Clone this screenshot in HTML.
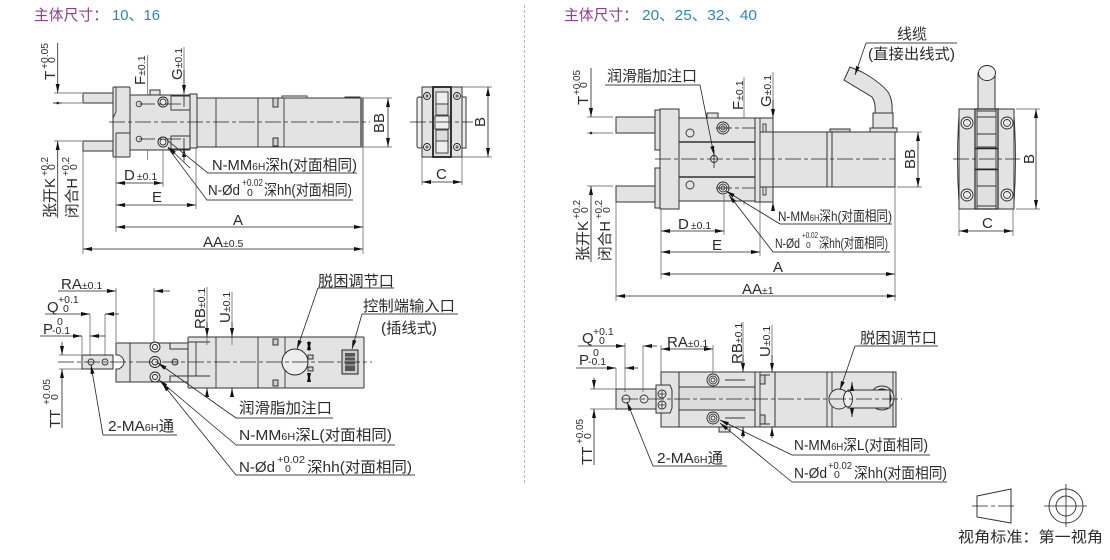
<!DOCTYPE html>
<html><head><meta charset="utf-8">
<style>
html,body{margin:0;padding:0;background:#fff}
svg{display:block;filter:blur(.3px)}
text{font-family:"Liberation Sans","Noto Sans CJK SC",sans-serif;font-size:15px;fill:#2b2b2b}
.s{font-size:10.5px}
.b{fill:#e3e3e3;stroke:#333;stroke-width:1}
.g{fill:#cfcfcf;stroke:#333;stroke-width:1}
.n{fill:none;stroke:#333;stroke-width:.9}
.w{fill:#eee;stroke:#222;stroke-width:.9}
.d{fill:none;stroke:#222;stroke-width:.8}
.e{fill:none;stroke:#555;stroke-width:.7}
.u{fill:none;stroke:#444;stroke-width:.9}
.c{fill:none;stroke:#222;stroke-width:.8;stroke-dasharray:16 3 4 3}
.ae{marker-end:url(#a)}.as{marker-start:url(#a)}
</style></head>
<body>
<svg xmlns="http://www.w3.org/2000/svg" width="1110" height="560" viewBox="0 0 1110 560">
<defs><marker id="a" markerUnits="userSpaceOnUse" markerWidth="10" markerHeight="6" refX="9" refY="3" orient="auto-start-reverse"><path d="M0 1L9 3L0 5Z" fill="#111"/></marker></defs>

<!-- headers -->
<text x="34" y="20" style="font-size:14.8px;fill:#8a3f8c">主体尺寸：</text>
<text x="112" y="20" textLength="48" lengthAdjust="spacingAndGlyphs" style="fill:#2a88b8">10、16</text>
<text x="564" y="20" style="font-size:14.8px;fill:#8a3f8c">主体尺寸：</text>
<text x="642" y="20" textLength="115" lengthAdjust="spacingAndGlyphs" style="fill:#2a88b8">20、25、32、40</text>
<path d="M524.5 5V485" stroke="#aaa" stroke-width=".8" stroke-dasharray="3 2" fill="none"/>

<!-- ===== TOP LEFT ===== -->
<rect class="b" x="83" y="93" width="30" height="10"/><rect class="b" x="83" y="141" width="30" height="10"/>
<rect class="b" x="130" y="95" width="60" height="55"/>
<rect class="b" x="150" y="90" width="10" height="5"/>
<rect class="b" x="113" y="87" width="17" height="70" rx="1"/>
<path class="n" d="M116 87V112M116 133V157M116 133H130M116 112L113 118"/>
<rect class="b" x="190" y="94" width="7" height="54"/>
<rect class="b" x="197" y="98" width="166" height="49"/>
<path class="n" d="M216 98V147M258 98V147M284 98V147M282 98V96H307V98M345 98V97H360V98"/>
<rect class="g" x="273" y="98" width="5" height="9"/><rect class="g" x="273" y="138" width="5" height="8"/>
<rect x="360" y="98" width="3" height="49" fill="#777"/>
<path class="n" d="M171 96H190V110H171ZM171 136H190V149H171ZM184 96V107M184 138V148"/>
<circle class="n" cx="139" cy="104" r="2.8"/><circle class="n" cx="139" cy="139" r="2.8"/>
<circle class="w" cx="163" cy="102" r="5"/><circle class="n" cx="163" cy="102" r="3"/><circle class="w" cx="163" cy="142" r="5"/><circle class="n" cx="163" cy="142" r="3"/>
<path class="c" d="M109 122H370"/><path class="c" d="M139 104H184M139 139H184"/>
<path class="e" d="M54 93H82M54 103H82M54 141H82M83 151V254M116 157V232M363 147V254M163 150V187M196 148V209"/>
<path class="e" d="M147.7 95V55M147.7 150V160M184 94V47M184 150V162"/>
<path class="d ae" d="M57.7 43V93"/><path class="d" d="M53 103H62"/><circle cx="57.7" cy="103" r="1.3" fill="#222"/>
<path class="d ae" d="M57.7 218V141"/>
<path class="d ae" d="M184 70V94"/><path class="d as" d="M184 148V160"/>
<path class="d as ae" d="M116 183H163"/><path class="d as ae" d="M116 205H196"/><path class="d as ae" d="M116 227H363"/><path class="d as ae" d="M83 249H363"/>
<text transform="translate(55 80) rotate(-90)">T</text><text class="s" transform="translate(48 69) rotate(-90)" textLength="26" lengthAdjust="spacingAndGlyphs">+0.05</text><text class="s" transform="translate(55 63) rotate(-90)">0</text>
<text transform="translate(55 218) rotate(-90)" textLength="40" lengthAdjust="spacingAndGlyphs">张开K</text><text class="s" transform="translate(48 176) rotate(-90)" textLength="19" lengthAdjust="spacingAndGlyphs">+0.2</text><text class="s" transform="translate(55 170) rotate(-90)">0</text>
<text transform="translate(77 218) rotate(-90)" textLength="40" lengthAdjust="spacingAndGlyphs">闭合H</text><text class="s" transform="translate(69 176) rotate(-90)" textLength="19" lengthAdjust="spacingAndGlyphs">+0.2</text><text class="s" transform="translate(77 170) rotate(-90)">0</text>
<text transform="translate(145 85) rotate(-90)">F<tspan class="s">±0.1</tspan></text>
<text transform="translate(182 80) rotate(-90)">G<tspan class="s">±0.1</tspan></text>
<text x="124" y="180">D<tspan class="s" dx="2">±0.1</tspan></text><text x="152" y="202">E</text><text x="233" y="225">A</text>
<text x="203" y="247">AA<tspan class="s">±0.5</tspan></text>
<path class="u" d="M357 173H208L167 140"/><path class="u" d="M353 200H207L168 148"/><path class="d ae" d="M190 168L168 147"/>
<text x="212" y="170" textLength="145" lengthAdjust="spacingAndGlyphs">N-MM<tspan class="s">6H</tspan>深h(对面相同)</text>
<text x="208" y="195" textLength="32" lengthAdjust="spacingAndGlyphs">N-Ød</text><text class="s" x="242" y="186" textLength="21" lengthAdjust="spacingAndGlyphs">+0.02</text><text class="s" x="247" y="196">0</text><text x="264" y="195" textLength="88" lengthAdjust="spacingAndGlyphs">深hh(对面相同)</text>
<path class="e" d="M363 98H392M363 147H392"/><path class="d as ae" d="M388 98V147"/>
<text transform="translate(384 133) rotate(-90)">BB</text>

<!-- Left end view -->
<rect class="w" x="417" y="97" width="5" height="51" rx="2"/><rect class="w" x="462" y="97" width="4" height="51"/>
<rect class="b" x="422" y="87" width="40" height="70"/>
<rect x="433" y="87" width="18" height="70" fill="#ddd" stroke="#222" stroke-width="1.8"/>
<rect x="436" y="92" width="12" height="12" fill="#eee" stroke="#333" stroke-width=".9"/><rect x="436" y="104" width="12" height="11" fill="#ddd" stroke="#333" stroke-width=".9"/>
<rect x="435" y="116" width="14" height="13" fill="#eee" stroke="#333" stroke-width=".9"/>
<rect x="436" y="130" width="12" height="11" fill="#ddd" stroke="#333" stroke-width=".9"/><rect x="436" y="141" width="12" height="12" fill="#eee" stroke="#333" stroke-width=".9"/>
<circle class="w" cx="427" cy="96" r="3.5"/><circle class="w" cx="457" cy="96" r="3.5"/><circle class="w" cx="427" cy="147" r="3.5"/><circle class="w" cx="457" cy="147" r="3.5"/>
<path class="d" d="M425 96H429M427 94V98M455 96H459M457 94V98M425 147H429M427 145V149M455 147H459M457 145V149"/>
<path class="c" d="M410 122H473"/>
<path class="e" d="M462 87H492M462 157H492M422 157V185M462 157V185"/>
<path class="d as ae" d="M488 87V157"/><path class="d as ae" d="M422 182H462"/>
<text transform="translate(485 127) rotate(-90)">B</text><text x="436" y="179">C</text>

<!-- ===== BOTTOM LEFT ===== -->
<rect class="b" x="82" y="355" width="31" height="14"/>
<path class="b" d="M116 343H130V382H116V369H119Q124 366 124 362Q124 358 119 355H116Z"/>
<rect class="b" x="130" y="343" width="58" height="39"/>
<rect class="b" x="170" y="343" width="18" height="6"/><rect class="b" x="170" y="376" width="18" height="6"/>
<rect class="b" x="188" y="337" width="176" height="51" rx="1"/>
<path class="n" d="M216 337V388M258 337V388M285 337V388M188 342H210M188 376H210M196 342V376"/>
<rect class="g" x="273" y="339" width="5" height="6"/><rect class="g" x="273" y="380" width="5" height="6"/>
<circle class="w" cx="155" cy="347" r="5"/><circle class="w" cx="155" cy="347" r="2.5"/><circle class="w" cx="155" cy="362" r="5.5"/><circle class="w" cx="155" cy="362" r="3"/><circle class="w" cx="155" cy="377" r="5"/><circle class="w" cx="155" cy="377" r="2.5"/>
<circle class="g" cx="175" cy="362" r="3"/>
<circle class="n" cx="91" cy="362" r="3"/><circle class="n" cx="105" cy="362" r="3"/>
<circle cx="295" cy="362" r="13" fill="#eee" stroke="#222" stroke-width="1"/>
<rect class="g" x="308" y="355" width="5" height="4"/><rect class="g" x="308" y="367" width="5" height="4"/>
<path class="d as ae" d="M309 341V351"/><path class="d as ae" d="M309 373V382"/>
<rect x="342" y="350" width="16" height="24" fill="#ccc" stroke="#222"/><rect x="345" y="353" width="10" height="18" fill="#555"/>
<path d="M345 357H355M345 361H355M345 365H355" stroke="#bbb" stroke-width="1"/>
<path class="c" d="M58 362H372"/>
<path class="e" d="M116 288V342M154 288V342M90 314V356M105 314V356M82 336V354"/>
<path class="d ae" d="M58 291H116"/><path class="d ae" d="M170 291H154"/>
<path class="d ae" d="M45 314H90"/><path class="d ae" d="M119 314H105"/>
<path class="d ae" d="M40 336H82"/><path class="d ae" d="M105 336H90"/>
<path class="e" d="M59 355H82M59 369H82"/>
<path class="d ae" d="M62 342V355"/><path class="d ae" d="M62 428V369"/>
<path class="e" d="M207 287V345M232 292V345"/>
<path class="d ae" d="M207 322V337"/><path class="d as" d="M207 388V395"/><path class="d ae" d="M232 322V337"/><path class="d as" d="M232 388V396"/>
<text x="61" y="289">RA<tspan class="s">±0.1</tspan></text>
<text x="47" y="312">Q</text><text class="s" x="58" y="303">+0.1</text><text class="s" x="63" y="312">0</text>
<text x="43" y="334">P</text><text class="s" x="52" y="334">-0.1</text><text class="s" x="57" y="325">0</text>
<text transform="translate(60 428) rotate(-90)">TT</text><text class="s" transform="translate(50 405) rotate(-90)" textLength="26" lengthAdjust="spacingAndGlyphs">+0.05</text><text class="s" transform="translate(58 400) rotate(-90)">0</text>
<text transform="translate(205 329) rotate(-90)">RB<tspan class="s">±0.1</tspan></text>
<text transform="translate(230 323) rotate(-90)">U<tspan class="s">±0.1</tspan></text>
<text x="318" y="286" textLength="76" lengthAdjust="spacingAndGlyphs">脱困调节口</text><path class="u" d="M394 288H318"/><path class="d ae" d="M318 288L297 349"/>
<text x="363" y="311" textLength="92" lengthAdjust="spacingAndGlyphs">控制端输入口</text><text x="381" y="333" textLength="56" lengthAdjust="spacingAndGlyphs">(插线式)</text><path class="u" d="M458 314H362"/><path class="d ae" d="M362 314L352 349"/>
<text x="239" y="413" textLength="93" lengthAdjust="spacingAndGlyphs">润滑脂加注口</text><path class="u" d="M333 418H236"/><path class="d ae" d="M236 418L158 363"/>
<text x="239" y="440" textLength="153" lengthAdjust="spacingAndGlyphs">N-MM<tspan class="s">6H</tspan>深L(对面相同)</text><path class="u" d="M395 445H236"/><path class="d ae" d="M236 445L159 380"/>
<text x="239" y="472" textLength="36" lengthAdjust="spacingAndGlyphs">N-Ød</text><text class="s" x="277" y="463" textLength="28" lengthAdjust="spacingAndGlyphs">+0.02</text><text class="s" x="285" y="472">0</text><text x="307" y="472" textLength="105" lengthAdjust="spacingAndGlyphs">深hh(对面相同)</text><path class="u" d="M415 475H236"/><path class="d ae" d="M236 475L162 383"/>
<text x="108" y="431" textLength="66" lengthAdjust="spacingAndGlyphs">2-MA<tspan class="s">6H</tspan>通</text><path class="u" d="M177 435H103"/><path class="d ae" d="M103 435L91 365"/>

<!-- ===== TOP RIGHT ===== -->
<rect class="b" x="616" y="117" width="39" height="16"/><rect class="b" x="616" y="186" width="39" height="16"/>
<path class="b" d="M655 110H660V150H655ZM655 168H660V208H655Z"/>
<rect class="b" x="660" y="109" width="19" height="100"/>
<rect class="b" x="707" y="113" width="11" height="5"/>
<rect class="b" x="679" y="118" width="76" height="83"/>
<path d="M679 142H755M679 177H755" stroke="#333" stroke-width="1.5" fill="none"/>
<rect class="b" x="755" y="118" width="18" height="84"/><path class="n" d="M760 118V202M760 132H773M760 187H773"/>
<rect class="b" x="773" y="132" width="122" height="55"/>
<rect class="b" x="827" y="132" width="5" height="55"/>
<rect class="g" x="830" y="129" width="20" height="3"/>
<path class="b" d="M850 67L844 80L872 97Q876 103 875 113H892Q893 100 888 92Q880 82 862 72Z"/>
<path class="b" d="M873 113H893V128H873ZM870 128H897V132H870Z"/>
<rect class="n" x="763" y="124" width="3" height="8"/><rect class="n" x="763" y="187" width="3" height="8"/>
<circle class="n" cx="690" cy="133" r="4"/><circle class="n" cx="690" cy="185" r="4"/>
<circle class="w" cx="723" cy="128" r="6"/><circle class="n" cx="723" cy="128" r="4"/><circle class="n" cx="723" cy="128" r="2"/>
<circle class="w" cx="723" cy="188" r="6"/><circle class="n" cx="723" cy="188" r="4"/><circle class="n" cx="723" cy="188" r="2"/>
<circle class="w" cx="714" cy="159" r="3.5"/>
<path class="c" d="M655 159H895"/><path class="c" d="M716 128H755M716 188H755"/><path class="d" d="M714 150V168"/>
<path class="e" d="M587 117H613M587 133H613M587 186H613M616 202V301M661 209V279M895 187V301M724 195V235M760 202V256"/>
<path class="e" d="M744 77V118M744 201V205M773 72V118M773 202V210"/>
<path class="d ae" d="M591 68V117"/><circle cx="591" cy="133" r="1.3" fill="#222"/><path class="d ae" d="M591 262V186"/>
<path class="d ae" d="M773 100V118"/><path class="d as" d="M773 202V210"/>
<path class="d as ae" d="M661 231H724"/><path class="d as ae" d="M661 252H760"/><path class="d as ae" d="M661 274H895"/><path class="d as ae" d="M616 296H896"/>
<path class="e" d="M897 132H922M897 187H922"/><path class="d as ae" d="M918 132V187"/>
<text transform="translate(588 105) rotate(-90)">T</text><text class="s" transform="translate(580 95) rotate(-90)" textLength="25" lengthAdjust="spacingAndGlyphs">+0.05</text><text class="s" transform="translate(587 88) rotate(-90)">0</text>
<text transform="translate(588 261) rotate(-90)" textLength="40" lengthAdjust="spacingAndGlyphs">张开K</text><text class="s" transform="translate(580 219) rotate(-90)" textLength="19" lengthAdjust="spacingAndGlyphs">+0.2</text><text class="s" transform="translate(588 213) rotate(-90)">0</text>
<text transform="translate(610 261) rotate(-90)" textLength="40" lengthAdjust="spacingAndGlyphs">闭合H</text><text class="s" transform="translate(602 219) rotate(-90)" textLength="19" lengthAdjust="spacingAndGlyphs">+0.2</text><text class="s" transform="translate(610 213) rotate(-90)">0</text>
<text transform="translate(743 110) rotate(-90)">F<tspan class="s">±0.1</tspan></text>
<text transform="translate(771 107) rotate(-90)">G<tspan class="s">±0.1</tspan></text>
<text x="678" y="229">D<tspan class="s" dx="2">±0.1</tspan></text><text x="712" y="250">E</text><text x="773" y="272">A</text>
<text x="742" y="294">AA<tspan class="s">±1</tspan></text>
<text transform="translate(915 169) rotate(-90)">BB</text>
<text x="607" y="81" textLength="90" lengthAdjust="spacingAndGlyphs">润滑脂加注口</text><path class="u" d="M700 85H605"/><path class="d ae" d="M700 85L714 155"/>
<text x="897" y="39" textLength="30" lengthAdjust="spacingAndGlyphs">线缆</text><text x="868" y="59" textLength="87" lengthAdjust="spacingAndGlyphs">(直接出线式)</text><path class="u" d="M957 43H866"/><path class="d ae" d="M866 43L855 75"/>
<text x="778" y="221" textLength="114" lengthAdjust="spacingAndGlyphs" style="font-size:14px">N-MM<tspan class="s" style="font-size:9px">6H</tspan>深h(对面相同)</text><path class="u" d="M892 224H780"/><path class="d ae" d="M780 224L726 191"/>
<text x="775" y="248" textLength="25" lengthAdjust="spacingAndGlyphs" style="font-size:14px">N-Ød</text><text x="802" y="238" textLength="16" lengthAdjust="spacingAndGlyphs" style="font-size:8.5px">+0.02</text><text x="806" y="248" style="font-size:8.5px">0</text><text x="819" y="248" textLength="69" lengthAdjust="spacingAndGlyphs" style="font-size:14px">深hh(对面相同)</text><path class="u" d="M890 252H773"/><path class="d ae" d="M773 252L729 195"/>

<!-- Right end view -->
<rect class="b" x="978" y="73" width="17" height="36"/><ellipse class="w" cx="987" cy="73" rx="8.5" ry="7.5"/>
<path class="n" d="M959 115Q956 159 959 203M1014 115Q1017 159 1014 203"/>
<rect class="b" x="959" y="109" width="55" height="100"/>
<rect x="975" y="109" width="23" height="100" fill="#e0e0e0" stroke="#333" stroke-width="1.3"/>
<path class="n" d="M977 109V209M996 109V209M977 111H996M977 117H996M977 134H996M977 147H996M977 169H996M977 186H996M977 206H996"/>
<path d="M975 148.5H998M975 169.5H998" stroke="#222" stroke-width="1.5"/>
<circle class="w" cx="967" cy="123" r="6"/><circle class="n" cx="967" cy="123" r="3.5"/><circle class="w" cx="1007" cy="123" r="6"/><circle class="n" cx="1007" cy="123" r="3.5"/><circle class="w" cx="967" cy="195" r="6"/><circle class="n" cx="967" cy="195" r="3.5"/><circle class="w" cx="1007" cy="195" r="6"/><circle class="n" cx="1007" cy="195" r="3.5"/>
<path class="c" d="M953 159H1020"/>
<path class="e" d="M1016 109H1040M1016 209H1040M959 209V236M1013 209V236"/>
<path class="d as ae" d="M1036 109V209"/><path class="d as ae" d="M959 231H1013"/>
<text transform="translate(1034 164) rotate(-90)">B</text><text x="982" y="228">C</text>

<!-- ===== BOTTOM RIGHT ===== -->
<rect class="b" x="616" y="389" width="40" height="20"/>
<circle class="n" cx="626" cy="399" r="4"/><circle class="n" cx="644" cy="399" r="4"/>
<rect class="b" x="661" y="372" width="18" height="55"/>
<path class="b" d="M656 385H670L672 390V408L670 413H656Z"/>
<circle class="w" cx="662" cy="394" r="4"/><circle class="w" cx="662" cy="405" r="4"/><path class="d" d="M659 394H665M662 391V397M659 405H665M662 402V408"/>
<rect class="b" x="679" y="372" width="76" height="55"/>
<rect x="679" y="387" width="76" height="23" fill="#dcdcdc" stroke="#333" stroke-width="1"/>
<rect class="b" x="755" y="372" width="20" height="55"/>
<path class="n" d="M760 372V427M760 375H770M760 424H770"/><rect class="g" x="760" y="375" width="5" height="9"/><rect class="g" x="760" y="415" width="5" height="9"/>
<rect class="b" x="775" y="372" width="121" height="55"/>
<path class="n" d="M827 372V427M832 372V427M893 372V427"/>
<rect x="719" y="427" width="11" height="5" class="b"/>
<circle class="w" cx="713" cy="380" r="6"/><circle class="n" cx="713" cy="380" r="4"/><circle class="n" cx="713" cy="380" r="2"/>
<circle class="w" cx="713" cy="418" r="6"/><circle class="n" cx="713" cy="418" r="4"/><circle class="n" cx="713" cy="418" r="2"/>
<path class="n" d="M725 380H745M725 418H745"/>
<circle class="b" cx="882" cy="398" r="12"/><circle class="w" cx="882" cy="398" r="9"/>
<path class="b" d="M848 390H890V408H848Z"/>
<ellipse class="b" cx="839" cy="399" rx="10" ry="10"/><ellipse class="w" cx="848" cy="399" rx="4.5" ry="8"/>
<path class="d as" d="M852 382V390"/><path class="d ae" d="M852 408V417"/>
<path class="c" d="M622 399H902"/>
<path class="e" d="M625 343V392M643 346V392M616 368V389M661 345V372M713 345V373M590 389H616M590 409H616"/>
<path class="e" d="M743 322V372M772 325V372M743 427V430M772 427V438"/>
<path class="d ae" d="M578 346H625"/><path class="d ae" d="M657 346H643"/>
<path class="d ae" d="M576 368H616"/><path class="d ae" d="M638 368H625"/>
<path class="d as ae" d="M661 349H713"/>
<path class="d ae" d="M743 355V372"/><path class="d ae" d="M743 438V427"/>
<path class="d ae" d="M772 355V372"/><path class="d ae" d="M772 438V427"/>
<path class="d ae" d="M594 378V389"/><path class="d ae" d="M594 465V409"/>
<text x="582" y="343">Q</text><text class="s" x="593" y="335">+0.1</text><text class="s" x="599" y="344">0</text>
<text x="579" y="365">P</text><text class="s" x="588" y="365">-0.1</text><text class="s" x="593" y="356">0</text>
<text x="667" y="347">RA<tspan class="s">±0.1</tspan></text>
<text transform="translate(742 364) rotate(-90)">RB<tspan class="s">±0.1</tspan></text>
<text transform="translate(770 357) rotate(-90)">U<tspan class="s">±0.1</tspan></text>
<text transform="translate(592 465) rotate(-90)">TT</text><text class="s" transform="translate(583 444) rotate(-90)" textLength="25" lengthAdjust="spacingAndGlyphs">+0.05</text><text class="s" transform="translate(591 439) rotate(-90)">0</text>
<text x="860" y="343" textLength="77" lengthAdjust="spacingAndGlyphs">脱困调节口</text><path class="u" d="M938 346H855"/><path class="d ae" d="M855 346L840 390"/>
<text x="794" y="450" textLength="134" lengthAdjust="spacingAndGlyphs">N-MM<tspan class="s">6H</tspan>深L(对面相同)</text><path class="u" d="M930 455H792"/><path class="d ae" d="M792 455L720 420"/>
<text x="794" y="478" textLength="33" lengthAdjust="spacingAndGlyphs">N-Ød</text><text class="s" x="828" y="469" textLength="24" lengthAdjust="spacingAndGlyphs">+0.02</text><text class="s" x="834" y="478">0</text><text x="854" y="478" textLength="93" lengthAdjust="spacingAndGlyphs">深hh(对面相同)</text><path class="u" d="M947 482H792"/><path class="d ae" d="M792 482L720 423"/>
<text x="657" y="463" textLength="66" lengthAdjust="spacingAndGlyphs">2-MA<tspan class="s">6H</tspan>通</text><path class="u" d="M727 466H653"/><path class="d ae" d="M653 466L627 402"/>

<!-- legend -->
<path class="n" d="M977 496L1011 489V523L977 517Z" style="stroke-width:1"/>
<path class="c" d="M972 506H1016"/>
<circle class="n" cx="1066" cy="506" r="17"/><circle class="n" cx="1066" cy="506" r="10"/>
<path class="d" d="M1044 506H1087M1066 484V527"/>
<text x="958" y="542" textLength="145" lengthAdjust="spacingAndGlyphs">视角标准：第一视角</text>
</svg>
</body></html>
